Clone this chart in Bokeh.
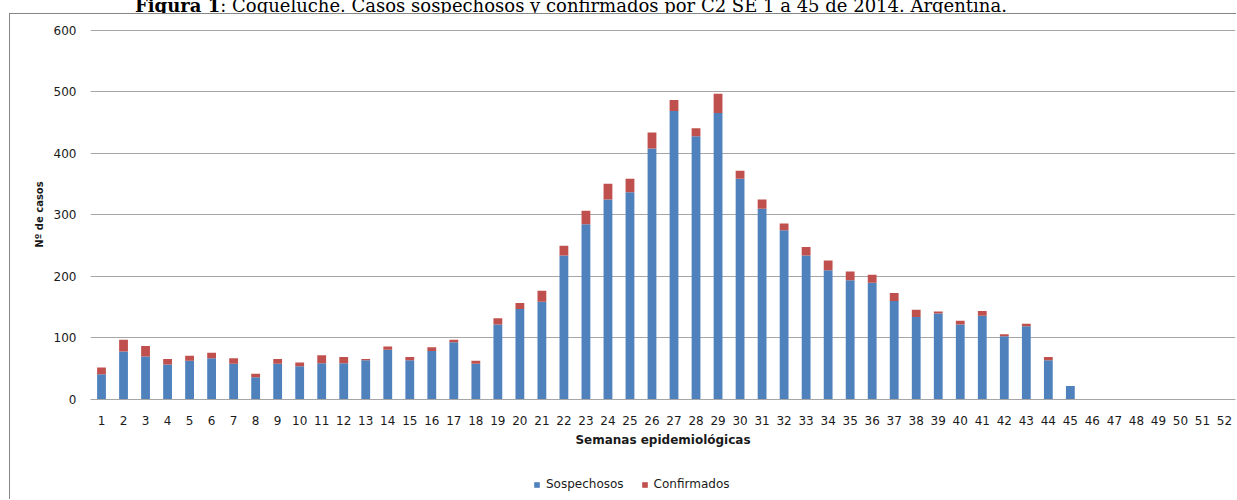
from bokeh.plotting import figure
from bokeh.layouts import column
from bokeh.models import Legend, LegendItem, Div, FactorRange, FixedTicker, Range1d
from bokeh.embed import file_html
from bokeh.resources import INLINE

weeks = [str(i) for i in range(1, 53)]
sospechosos = [41, 78, 70, 57, 63, 67, 58, 36, 58, 54,
               59, 59, 64, 81, 64, 79, 93, 58, 122, 147,
               159, 234, 285, 325, 337, 408, 469, 428, 466, 359,
               310, 275, 234, 210, 194, 190, 160, 134, 140, 122,
               136, 103, 119, 64, 22, 0, 0, 0, 0, 0, 0, 0]
confirmados = [11, 19, 17, 9, 8, 9, 9, 6, 8, 6,
               13, 10, 2, 5, 5, 6, 4, 5, 10, 10,
               18, 16, 22, 26, 22, 26, 18, 13, 31, 13,
               15, 11, 14, 16, 14, 13, 13, 12, 3, 6,
               8, 3, 4, 5, 0, 0, 0, 0, 0, 0, 0, 0]
series = ["Sospechosos", "Confirmados"]
colors = ["#4F81BD", "#C0504D"]
y_ticks = [0, 100, 200, 300, 400, 500, 600]
title_bold = "Figura 1"
title_rest = ": Coqueluche. Casos sospechosos y confirmados por C2 SE 1 a 45 de 2014. Argentina."

data = {"week": weeks, "Sospechosos": sospechosos, "Confirmados": confirmados}
BORDER = "1px solid #868686"

title_div = Div(
    text=('<div style="font-family:\'DejaVu Serif\'; font-size:18px; line-height:18px; '
          'margin-top:-5px; margin-left:135px; white-space:nowrap; color:#000;">'
          f'<b>{title_bold}</b>{title_rest}</div>'),
    width=1237, height=13, margin=0, styles={"overflow": "hidden"})

p = figure(width=1227, height=441, x_range=FactorRange(factors=weeks, range_padding=0),
           y_range=Range1d(0, 601.6), output_backend="svg", toolbar_location=None,
           min_border_left=80, min_border_right=2, min_border_top=15, min_border_bottom=56,
           margin=(0, 0, 0, 9), styles={"border-left": BORDER, "border-top": BORDER})
p.outline_line_color = None
p.background_fill_color = "white"
p.border_fill_color = "white"

renderers = p.vbar_stack(series, x="week", width=0.4, color=colors, line_color=None, source=data)

# axes
p.yaxis.ticker = FixedTicker(ticks=y_ticks)
p.yaxis.axis_line_color = None
p.yaxis.major_tick_line_color = None
p.yaxis.minor_tick_line_color = None
p.yaxis.major_tick_out = 0
p.yaxis.major_tick_in = 0
p.yaxis.major_label_standoff = 14
p.yaxis.major_label_text_font = "DejaVu Sans"
p.yaxis.major_label_text_font_size = "12px"
p.yaxis.major_label_text_color = "#1a1a1a"
p.yaxis.axis_label = "Nº de casos"
p.yaxis.axis_label_text_font = "DejaVu Sans"
p.yaxis.axis_label_text_font_style = "bold"
p.yaxis.axis_label_text_font_size = "10px"
p.yaxis.axis_label_text_color = "#1a1a1a"
p.yaxis.axis_label_standoff = 6

p.xaxis.axis_line_color = "#A6A6A6"
p.xaxis.major_tick_line_color = None
p.xaxis.major_tick_out = 0
p.xaxis.major_tick_in = 0
p.xaxis.major_label_standoff = 16
p.xaxis.major_label_text_font = "DejaVu Sans"
p.xaxis.major_label_text_font_size = "12px"
p.xaxis.major_label_text_color = "#1a1a1a"
p.xaxis.axis_label = "Semanas epidemiológicas"
p.xaxis.axis_label_text_font = "DejaVu Sans"
p.xaxis.axis_label_text_font_style = "bold"
p.xaxis.axis_label_text_font_size = "12px"
p.xaxis.axis_label_text_color = "#1a1a1a"
p.xaxis.axis_label_standoff = 5

p.xgrid.grid_line_color = None
p.ygrid.grid_line_color = "#A6A6A6"
p.ygrid.grid_line_width = 1

# legend strip below the chart (continues the chart border on the left);
# its bars lie far outside its y range, so only the legend shows
p2 = figure(width=1227, height=45, x_range=FactorRange(factors=weeks, range_padding=0),
            y_range=Range1d(1000, 1045),
            x_axis_type=None, y_axis_type=None, output_backend="svg", toolbar_location=None,
            min_border=0, min_border_left=0, min_border_right=0, min_border_top=0,
            min_border_bottom=0, margin=(0, 0, 0, 9), styles={"border-left": BORDER})
p2.outline_line_color = None
p2.background_fill_color = "white"
p2.border_fill_color = "white"
p2.xgrid.visible = False
p2.ygrid.visible = False
swatches = p2.vbar_stack(series, x="week", width=0.4, color=colors, line_color=None, source=data)

legend = Legend(items=[LegendItem(label=s, renderers=[r]) for s, r in zip(series, swatches)],
                location=(443, 8), orientation="horizontal", padding=0, margin=0,
                border_line_color=None, background_fill_alpha=0,
                glyph_width=7, glyph_height=7, label_standoff=6, spacing=17,
                label_text_font="DejaVu Sans", label_text_font_size="12px",
                label_text_color="#1a1a1a", label_height=12)
p2.add_layout(legend)

layout = column(title_div, p, p2, spacing=0, margin=0)

open("out.html", "w").write(file_html(layout, INLINE))
